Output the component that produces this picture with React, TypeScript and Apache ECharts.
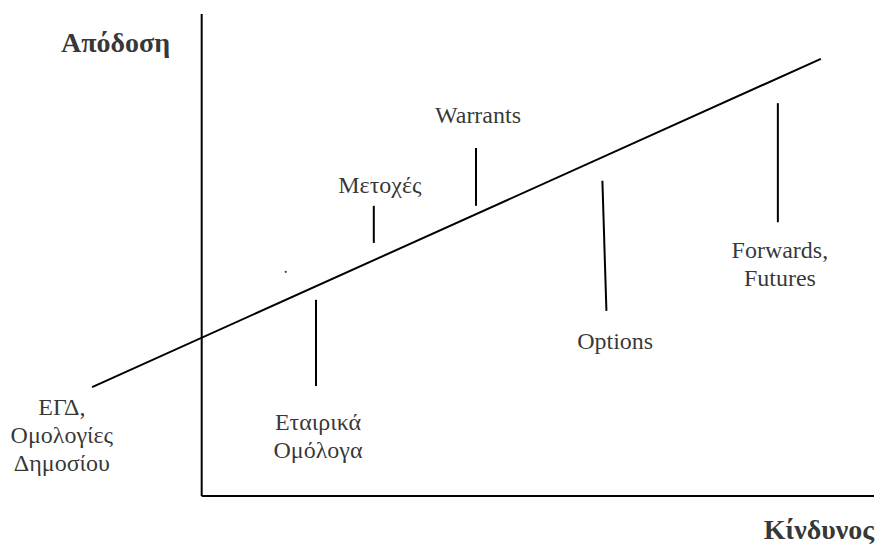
import React, { useEffect, useRef } from "react";
import * as echarts from "echarts";

// Conceptual risk (x) / return (y) diagram, units 0..100 on each axis
const axisX: number[][] = [[0, 0], [100, 0]];
const axisY: number[][] = [[0, 0], [0, 100]];
const riskReturnLine: number[][] = [[-16.3, 22.6], [92.1, 90.7]];

const assetLabels: string[] = [
  "ΕΓΔ,\nΟμολογίες\nΔημοσίου",
  "Εταιρικά\nΟμόλογα",
  "Μετοχές",
  "Warrants",
  "Options",
  "Forwards,\nFutures",
];
const labelPoints: number[][] = [
  [-20.8, 12.7],
  [17.3, 12.4],
  [26.5, 64.5],
  [41.1, 79.0],
  [61.5, 32.2],
  [86.0, 48.1],
];
// pointer segments from label towards the line
const pointerSegments: number[][][] = [
  [[17.0, 22.8], [17.0, 40.7]],
  [[25.6, 52.5], [25.6, 60.2]],
  [[40.8, 60.2], [40.8, 72.2]],
  [[60.2, 38.4], [59.6, 65.4]],
  [[85.7, 56.8], [85.7, 81.5]],
];
const axisTitles: string[] = ["Απόδοση", "Κίνδυνος"];
const axisTitlePoints: number[][] = [[-12.8, 94.0], [91.8, -7.0]];
const strayDot: number[][] = [[12.5, 46.5]];

export default function App() {
  const ref = useRef<HTMLDivElement>(null);
  useEffect(() => {
    if (!ref.current) return;
    const chart = echarts.init(ref.current, undefined, { renderer: "svg" });
    const font = "Liberation Serif";
    const seg = (data: number[][], w = 2) => ({
      type: "line",
      data,
      symbol: "none",
      silent: true,
      clip: false,
      lineStyle: { color: "#000", width: w },
    });
    chart.setOption({
      animation: false,
      backgroundColor: "#fff",
      grid: { left: 0, right: 7, top: 14, bottom: 1 },
      xAxis: { type: "value", min: -30, max: 100, show: false },
      yAxis: { type: "value", min: -11, max: 100, show: false },
      series: [
        seg(axisY, 2),
        seg(axisX, 2),
        seg(riskReturnLine, 2),
        ...pointerSegments.map((s) => seg(s, 2)),
        {
          type: "scatter",
          data: strayDot,
          symbolSize: 2,
          itemStyle: { color: "#000" },
          silent: true,
        },
        {
          type: "scatter",
          symbolSize: 0,
          silent: true,
          data: assetLabels.map((n, i) => ({ name: n, value: labelPoints[i] })),
          label: {
            show: true,
            position: "inside",
            formatter: "{b}",
            color: "#000",
            fontFamily: font,
            fontSize: 24,
            lineHeight: 28,
            align: "center",
          },
        },
        {
          type: "scatter",
          symbolSize: 0,
          silent: true,
          data: axisTitles.map((n, i) => ({ name: n, value: axisTitlePoints[i] })),
          label: {
            show: true,
            position: "inside",
            formatter: "{b}",
            color: "#000",
            fontFamily: font,
            fontWeight: "bold",
            fontSize: 28,
            align: "center",
          },
        },
      ],
    });
    return () => chart.dispose();
  }, []);
  return (
    <div
      ref={ref}
      style={{ position: "absolute", left: 0, top: 0, width: 881, height: 550 }}
    />
  );
}
